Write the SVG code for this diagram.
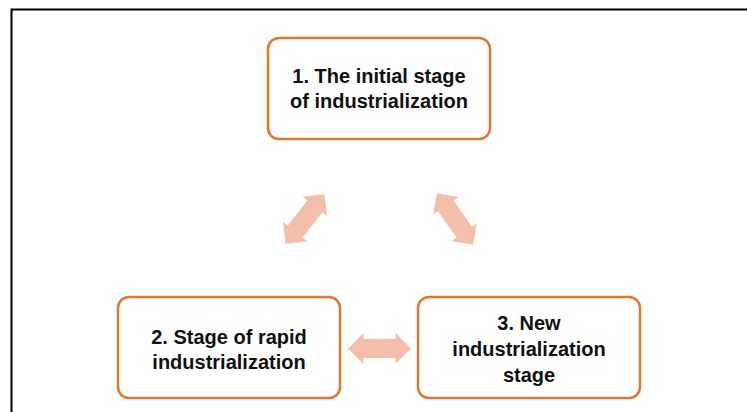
<svg xmlns="http://www.w3.org/2000/svg" width="747" height="412" viewBox="0 0 747 412">
<defs>
<style>
.box{fill:#fff;stroke:#E0782F;stroke-width:2.5}
.t{font-family:"Liberation Sans",Arial,sans-serif;font-weight:bold;font-size:20px;fill:#111;text-anchor:middle}
.arr{fill:#F4BFAA}
</style>
<path id="dbl" d="M-31.5,0 L-16,-15.5 L-16,-9.5 L16,-9.5 L16,-15.5 L31.5,0 L16,15.5 L16,9.5 L-16,9.5 L-16,15.5 Z"/>
</defs>
<rect x="0" y="0" width="747" height="412" fill="#fff"/>
<rect x="11.5" y="9.5" width="800" height="500" fill="none" stroke="#000" stroke-width="2"/>
<g id="connectors" class="arr">
<use href="#dbl" transform="translate(305,219) rotate(-52)"/>
<use href="#dbl" transform="translate(455,219) rotate(55)"/>
<use href="#dbl" transform="translate(379.5,348.5)"/>
</g>
<g id="node1">
<rect class="box" x="268" y="38" width="222" height="101" rx="11"/>
<text class="t" x="379" y="83">1. The initial stage</text>
<text class="t" x="379" y="108">of industrialization</text>
</g>
<g id="node2">
<rect class="box" x="118" y="297" width="222" height="101" rx="11"/>
<text class="t" x="229" y="344">2. Stage of rapid</text>
<text class="t" x="229" y="369">industrialization</text>
</g>
<g id="node3">
<rect class="box" x="418" y="297" width="222" height="101" rx="11"/>
<text class="t" x="529" y="330">3. New</text>
<text class="t" x="529" y="356">industrialization</text>
<text class="t" x="529" y="382">stage</text>
</g>
</svg>
